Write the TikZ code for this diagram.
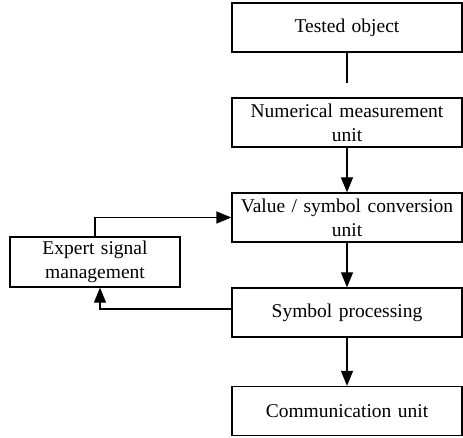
\documentclass[tikz,border=0pt]{standalone}
\usepackage{fontspec}
\setmainfont{Liberation Serif}
\usetikzlibrary{arrows.meta}
\begin{document}
\begin{tikzpicture}[x=1pt,y=1pt,
  box/.style={draw,line width=1.3pt,minimum height=49pt,align=center,
    inner sep=1pt,font=\fontsize{19.5}{24}\selectfont},
  mainbox/.style={box,minimum width=230pt,text width=226pt},
  flow/.style={line width=1.3pt,-{Triangle[length=15pt,width=12pt]}}]
\useasboundingbox (0,0) rectangle (463,-438);
\node[mainbox] (tested) at (347,-27.5) {Tested object};
\node[mainbox] (meas) at (347,-122.5) {Numerical measurement\\unit};
\node[mainbox] (conv) at (347,-217.5) {Value / symbol conversion\\unit};
\node[mainbox] (sym) at (347,-312.5) {Symbol processing};
\node[mainbox] (comm) at (347,-411) {Communication unit};
\node[box,minimum width=170pt,text width=166pt,minimum height=50pt] (expert) at (95,-262) {Expert signal\\management};
\coordinate (stub) at (347,-83);
\draw[line width=1.3pt] (tested.south) -- (stub);
\draw[flow] (meas.south) -- (conv.north);
\draw[flow] (conv.south) -- (sym.north);
\draw[flow] (sym.south) -- (comm.north);
\draw[flow] (expert.north) |- (conv.west);
\draw[flow] ([yshift=3.5pt]sym.west) -| ([xshift=5pt]expert.south);
\end{tikzpicture}
\end{document}
